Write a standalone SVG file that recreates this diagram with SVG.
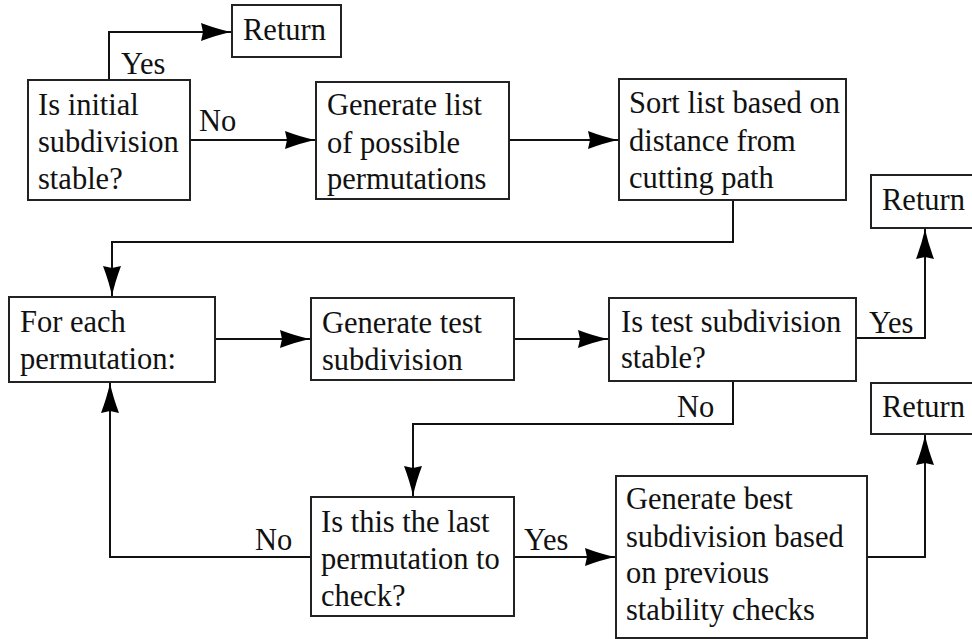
<svg xmlns="http://www.w3.org/2000/svg" width="972" height="639" viewBox="0 0 972 639">
<defs>
<style>
.box{fill:#fff;stroke:#222;stroke-width:2}
.t{font-family:"Liberation Serif","Times New Roman",serif;font-size:30.5px;fill:#111}
.c{fill:none;stroke:#111;stroke-width:2}
</style>
<marker id="ah" viewBox="-32 -10 34 20" markerWidth="34" markerHeight="20" refX="0" refY="0" orient="auto" markerUnits="userSpaceOnUse">
<path d="M-30,-9 Q-14,-3 0,0 Q-14,3 -30,9 L-28,0 z" fill="#000"/>
</marker>
</defs>
<rect width="972" height="639" fill="#fff"/>
<g id="connectors">
<path class="c" d="M109,80 V32 H231" marker-end="url(#ah)"/>
<path class="c" d="M190,140 H315" marker-end="url(#ah)"/>
<path class="c" d="M509,140 H618" marker-end="url(#ah)"/>
<path class="c" d="M733,200 V242 H112 V296" marker-end="url(#ah)"/>
<path class="c" d="M215,339 H310" marker-end="url(#ah)"/>
<path class="c" d="M514,339 H608" marker-end="url(#ah)"/>
<path class="c" d="M856,338 H925 V229" marker-end="url(#ah)"/>
<path class="c" d="M733,381 V424 H413 V496" marker-end="url(#ah)"/>
<path class="c" d="M311,557 H110 V383" marker-end="url(#ah)"/>
<path class="c" d="M514,557 H615" marker-end="url(#ah)"/>
<path class="c" d="M867,557 H925 V435" marker-end="url(#ah)"/>
<text class="t" x="121" y="74">Yes</text>
<text class="t" x="199" y="131">No</text>
<text class="t" x="869" y="333">Yes</text>
<text class="t" x="677" y="417">No</text>
<text class="t" x="255" y="550">No</text>
<text class="t" x="524" y="550">Yes</text>
</g>
<g id="n_return1">
<rect class="box" x="232" y="5" width="109" height="52"/>
<text class="t" x="243" y="40">Return</text>
</g>
<g id="n_initial">
<rect class="box" x="28" y="80" width="162" height="120"/>
<text class="t" x="38" y="115">Is initial</text>
<text class="t" x="38" y="152">subdivision</text>
<text class="t" x="38" y="189">stable?</text>
</g>
<g id="n_genlist">
<rect class="box" x="316" y="82" width="193" height="117"/>
<text class="t" x="327" y="115">Generate list</text>
<text class="t" x="327" y="153">of possible</text>
<text class="t" x="327" y="189">permutations</text>
</g>
<g id="n_sort">
<rect class="box" x="619" y="79" width="227" height="121"/>
<text class="t" x="629" y="113">Sort list based on</text>
<text class="t" x="629" y="151">distance from</text>
<text class="t" x="629" y="188">cutting path</text>
</g>
<g id="n_return2">
<rect class="box" x="871" y="175" width="104" height="53"/>
<text class="t" x="882" y="210">Return</text>
</g>
<g id="n_foreach">
<rect class="box" x="9" y="297" width="206" height="85"/>
<text class="t" x="20" y="332">For each</text>
<text class="t" x="20" y="369">permutation:</text>
</g>
<g id="n_gentest">
<rect class="box" x="311" y="298" width="203" height="82"/>
<text class="t" x="322" y="333">Generate test</text>
<text class="t" x="322" y="370">subdivision</text>
</g>
<g id="n_istest">
<rect class="box" x="609" y="298" width="247" height="83"/>
<text class="t" x="621" y="332">Is test subdivision</text>
<text class="t" x="621" y="368">stable?</text>
</g>
<g id="n_return3">
<rect class="box" x="871" y="383" width="104" height="51"/>
<text class="t" x="882" y="417">Return</text>
</g>
<g id="n_islast">
<rect class="box" x="311" y="497" width="203" height="119"/>
<text class="t" x="321" y="532">Is this the last</text>
<text class="t" x="321" y="569">permutation to</text>
<text class="t" x="321" y="606">check?</text>
</g>
<g id="n_genbest">
<rect class="box" x="616" y="476" width="251" height="162"/>
<text class="t" x="626" y="509">Generate best</text>
<text class="t" x="626" y="547">subdivision based</text>
<text class="t" x="626" y="583">on previous</text>
<text class="t" x="626" y="620">stability checks</text>
</g>
</svg>
